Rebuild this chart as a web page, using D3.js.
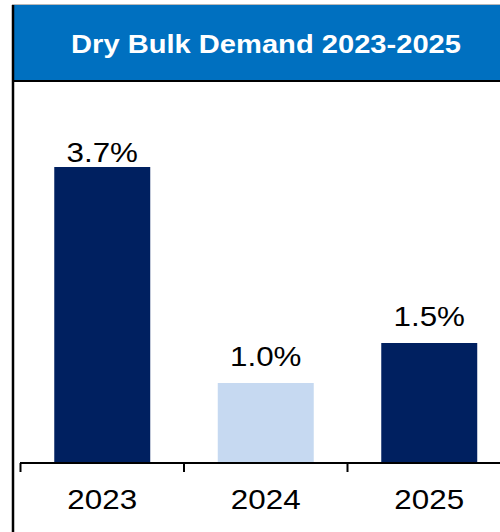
<!DOCTYPE html>
<html>
<head>
<meta charset="utf-8">
<script src="https://cdn.jsdelivr.net/npm/d3@7"></script>
<style>
  html, body { margin: 0; padding: 0; background: #fff; }
  svg { display: block; }
</style>
</head>
<body>
<svg id="chart" width="500" height="532"></svg>
<script>
// Dry bulk demand growth, percent per year
const years = ["2023", "2024", "2025"];
const growth = [3.7, 1.0, 1.5];
const barColors = ["#002060", "#C6D9F1", "#002060"];
const titleText = "Dry Bulk Demand 2023-2025";

const W = 500, H = 532;
const svg = d3.select("#chart");
const font = "'Liberation Sans', Arial, sans-serif";
const stretch = 1.12; // horizontal text widening

// Frame: light rule on top, black left border, blue title band
svg.append("line").attr("x1", 12).attr("x2", W).attr("y1", 4.5).attr("y2", 4.5)
  .attr("stroke", "#b8b8b8").attr("stroke-width", 1);
svg.append("rect").attr("x", 14).attr("y", 5).attr("width", W - 14).attr("height", 75)
  .attr("fill", "#0070C0");
svg.append("line").attr("x1", 12).attr("x2", W).attr("y1", 81).attr("y2", 81)
  .attr("stroke", "#000").attr("stroke-width", 2);
svg.append("line").attr("x1", 13).attr("x2", 13).attr("y1", 5).attr("y2", H)
  .attr("stroke", "#000").attr("stroke-width", 2.5);

svg.append("text")
  .attr("transform", `translate(266,53) scale(${stretch},1)`)
  .attr("text-anchor", "middle")
  .attr("font-family", font).attr("font-weight", "bold").attr("font-size", 26)
  .attr("fill", "#fff")
  .text(titleText);

// Scales
const x0 = 20.5, x1 = 511;
const pad = 0.413;
const x = d3.scaleBand().domain(years).range([x0, x1])
  .paddingInner(pad).paddingOuter(pad / 2);
const yMax = 4;
const y = d3.scaleLinear().domain([0, yMax]).range([463, 143]);

const data = years.map((yr, i) => ({ year: yr, value: growth[i], color: barColors[i] }));

// Bars
svg.selectAll("rect.bar").data(data).join("rect")
  .attr("class", "bar")
  .attr("x", d => x(d.year))
  .attr("width", x.bandwidth())
  .attr("y", d => y(d.value))
  .attr("height", d => y(0) - y(d.value))
  .attr("fill", d => d.color);

// Value labels, kept inside the plot area
svg.selectAll("text.val").data(data).join("text")
  .attr("class", "val")
  .attr("transform", d => {
    const cx = x(d.year) + x.bandwidth() / 2;
    const by = Math.max(y(d.value) - 17, y(yMax) + 19);
    return `translate(${cx},${by}) scale(${stretch},1)`;
  })
  .attr("text-anchor", "middle")
  .attr("font-family", font).attr("font-size", 28).attr("fill", "#000")
  .text(d => d.value.toFixed(1) + "%");

// Category axis with ticks at band boundaries
const axisY = y(0);
svg.append("line").attr("x1", x0 - 0.5).attr("x2", W).attr("y1", axisY).attr("y2", axisY)
  .attr("stroke", "#000").attr("stroke-width", 2);
const step = x.step();
const bounds = d3.range(years.length + 1).map(i => x0 + i * step);
svg.selectAll("line.tick").data(bounds).join("line")
  .attr("class", "tick")
  .attr("x1", d => d).attr("x2", d => d)
  .attr("y1", axisY).attr("y2", axisY + 9)
  .attr("stroke", "#000").attr("stroke-width", 2);

svg.selectAll("text.cat").data(years).join("text")
  .attr("class", "cat")
  .attr("transform", d => `translate(${x(d) + x.bandwidth() / 2},${axisY + 46}) scale(${stretch},1)`)
  .attr("text-anchor", "middle")
  .attr("font-family", font).attr("font-size", 28).attr("fill", "#000")
  .text(d => d);
</script>
</body>
</html>
